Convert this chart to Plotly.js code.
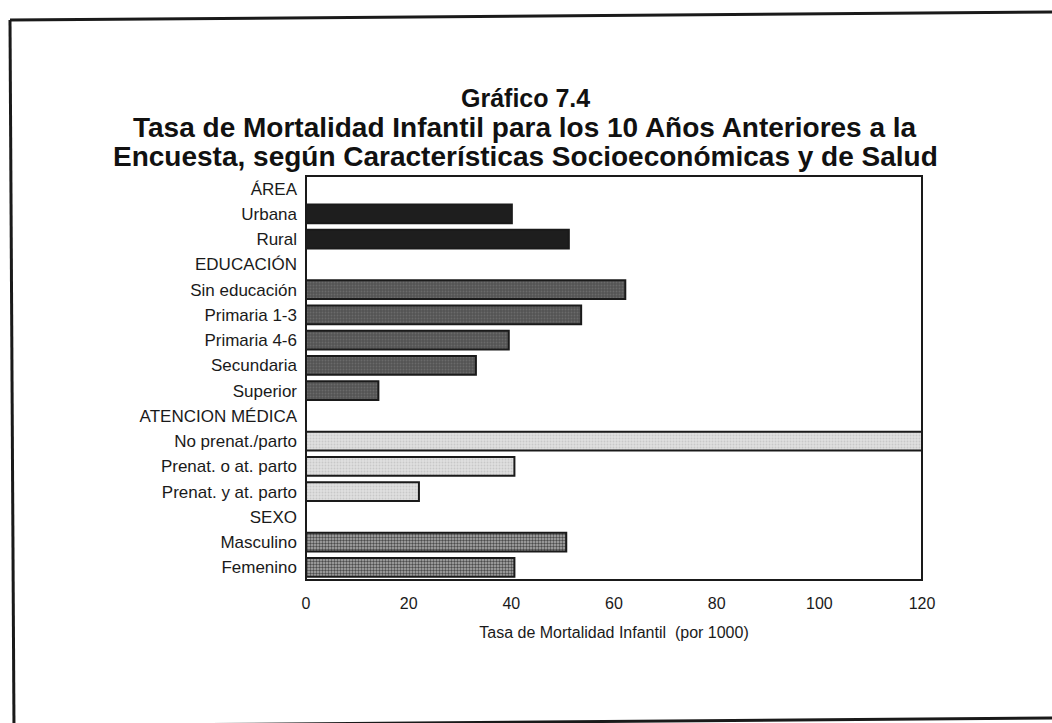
<!DOCTYPE html>
<html>
<head>
<meta charset="utf-8">
<script src="https://cdn.plot.ly/plotly-3.0.1.min.js"></script>
<style>
  html, body { margin: 0; padding: 0; background: #ffffff; }
  #chart { width: 1052px; height: 723px; }
</style>
</head>
<body>
<div id="chart"></div>
<script>
// ---- Data ----
const categories = [
  'ÁREA', 'Urbana', 'Rural',
  'EDUCACIÓN', 'Sin educación', 'Primaria 1-3', 'Primaria 4-6', 'Secundaria', 'Superior',
  'ATENCION MÉDICA', 'No prenat./parto', 'Prenat. o at. parto', 'Prenat. y at. parto',
  'SEXO', 'Masculino', 'Femenino'
];
const areaCats = ['Urbana', 'Rural'];
const areaVals = [40.1, 51.2];
const eduCats = ['Sin educación', 'Primaria 1-3', 'Primaria 4-6', 'Secundaria', 'Superior'];
const eduVals = [62.2, 53.6, 39.5, 33.1, 14.1];
const atenCats = ['No prenat./parto', 'Prenat. o at. parto', 'Prenat. y at. parto'];
const atenVals = [120, 40.6, 22.0];
const sexoCats = ['Masculino', 'Femenino'];
const sexoVals = [50.7, 40.6];
const xTickVals = [0, 20, 40, 60, 80, 100, 120];

const titleLines = [
  'Gráfico 7.4',
  'Tasa de Mortalidad Infantil para los 10 Años Anteriores a la',
  'Encuesta, según Características Socioeconómicas y de Salud'
];
const xTitle = 'Tasa de Mortalidad Infantil  (por 1000)';

// ---- Layout geometry (pixels) ----
const W = 1052, H = 723;
const L = 306, R = 922, T = 176, B = 580;
const px = x => (x - L) / (R - L);
const py = y => (B - y) / (B - T);

const outline = { color: '#1a1a1a', width: 2 };

function barTrace(cats, vals, style) {
  return {
    type: 'bar',
    orientation: 'h',
    y: cats,
    x: vals,
    marker: Object.assign({ line: outline }, style),
    hoverinfo: 'x+y',
    showlegend: false
  };
}

const traces = [
  barTrace(areaCats, areaVals, { color: '#1e1e1e' }),
  barTrace(eduCats, eduVals, {
    color: '#585858',
    pattern: { shape: '.', fgcolor: '#6a6a6a', bgcolor: '#545454', size: 3, solidity: 0.3, fillmode: 'replace' }
  }),
  barTrace(atenCats, atenVals, {
    color: '#dcdcdc',
    pattern: { shape: '.', fgcolor: '#c8c8c8', bgcolor: '#e0e0e0', size: 3, solidity: 0.3, fillmode: 'replace' }
  }),
  barTrace(sexoCats, sexoVals, {
    color: '#8a8a8a',
    pattern: { shape: '.', fgcolor: '#4c4c4c', bgcolor: '#b0b0b0', size: 3, solidity: 0.5, fillmode: 'replace' }
  })
];

const font = 'Liberation Sans, Arial, Helvetica, sans-serif';
const titleSizes = [25, 28, 28];
const titleY = [98, 128, 157];

const annotations = titleLines.map((t, i) => ({
  text: '<b>' + t + '</b>',
  xref: 'paper', yref: 'paper',
  x: px(525), y: py(titleY[i]),
  xanchor: 'center', yanchor: 'middle',
  showarrow: false,
  font: { family: font, size: titleSizes[i], color: '#111111' }
}));

const lineStyle = { color: '#1a1a1a', width: 3 };
const shapes = [
  { type: 'line', xref: 'paper', yref: 'paper', x0: px(10), y0: py(20), x1: px(1060), y1: py(12), line: lineStyle },
  { type: 'line', xref: 'paper', yref: 'paper', x0: px(10), y0: py(20), x1: px(14), y1: py(730), line: lineStyle },
  { type: 'line', xref: 'paper', yref: 'paper', x0: px(14), y0: py(726), x1: px(1060), y1: py(718), line: lineStyle },
  { type: 'rect', xref: 'paper', yref: 'paper', x0: 0, y0: 0, x1: 1, y1: 1, line: { color: '#1a1a1a', width: 2 } }
];

const layout = {
  width: W, height: H,
  margin: { l: L, r: W - R, t: T, b: H - B, pad: 0 },
  paper_bgcolor: '#ffffff',
  plot_bgcolor: '#ffffff',
  bargap: 0.25,
  barmode: 'overlay',
  font: { family: font, size: 16, color: '#1a1a1a' },
  xaxis: {
    range: [0, 120],
    tickvals: xTickVals,
    ticks: '',
    showgrid: false,
    zeroline: false,
    showline: false,
    tickfont: { family: font, size: 16, color: '#1a1a1a' },
    ticklabelstandoff: 12,
    title: { text: xTitle, font: { family: font, size: 16, color: '#1a1a1a' }, standoff: 15 }
  },
  yaxis: {
    type: 'category',
    categoryorder: 'array',
    categoryarray: categories,
    range: [categories.length - 0.5, -0.5],
    ticks: '',
    showgrid: false,
    zeroline: false,
    showline: false,
    tickfont: { family: font, size: 17, color: '#1a1a1a' },
    ticklabelstandoff: 8
  },
  annotations: annotations,
  shapes: shapes
};

Plotly.newPlot('chart', traces, layout, { displayModeBar: false, staticPlot: true });
</script>
</body>
</html>
